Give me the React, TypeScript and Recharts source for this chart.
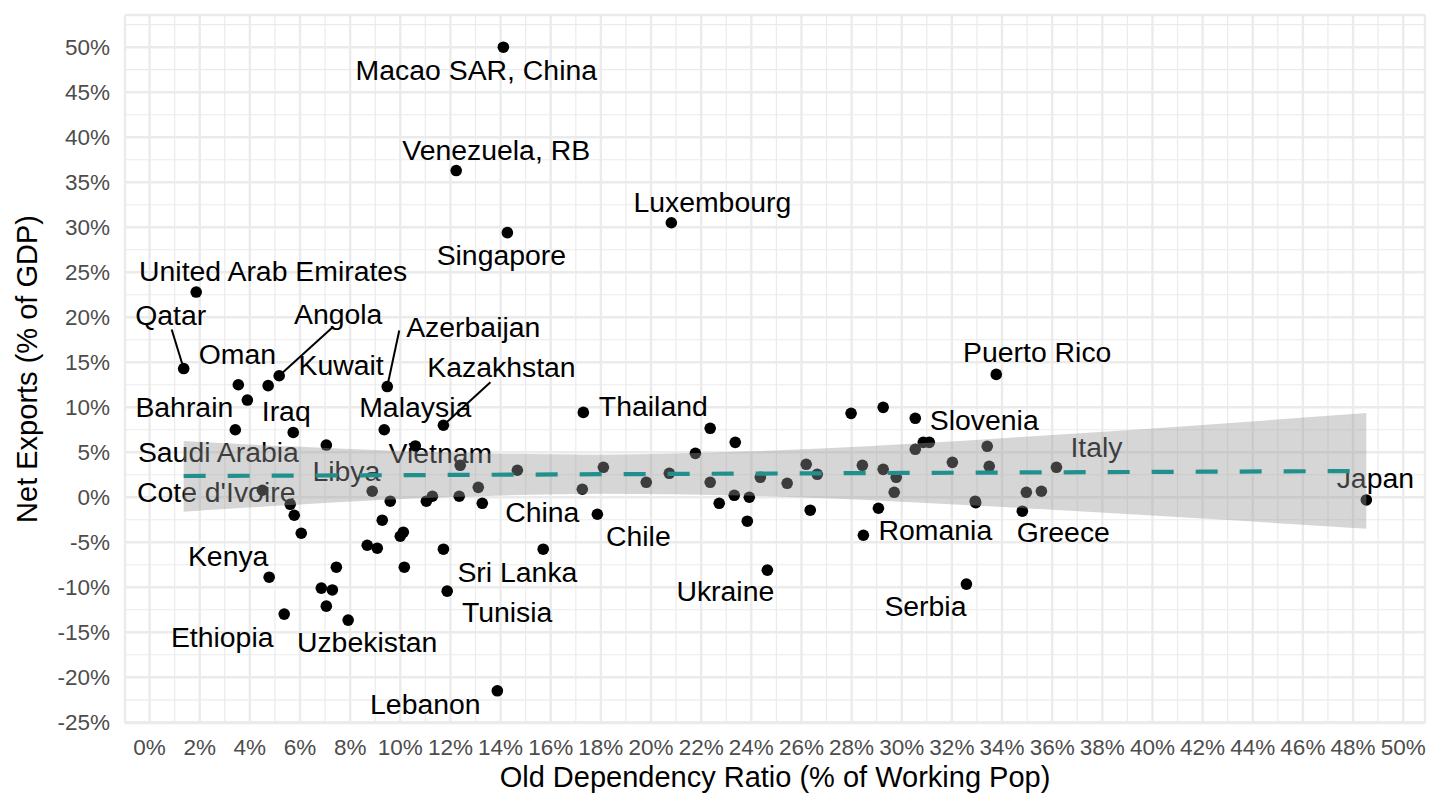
import {
  ComposedChart,
  Scatter,
  Area,
  Line,
  XAxis,
  YAxis,
  CartesianGrid,
} from "recharts";

const FONT = "'Liberation Sans', Arial, Helvetica, sans-serif";

// country labels ("" = point drawn without a label)
const countries = [
  "Macao SAR, China", "Venezuela, RB", "Singapore", "Luxembourg", "United Arab Emirates",
  "Qatar", "Oman", "Angola", "Kuwait", "",
  "Iraq", "Bahrain", "Libya", "Azerbaijan", "Malaysia",
  "Kazakhstan", "Vietnam", "", "", "",
  "Saudi Arabia", "Cote d'Ivoire", "", "", "",
  "", "", "", "", "",
  "", "", "", "Kenya", "",
  "", "Sri Lanka", "", "", "",
  "", "Tunisia", "", "Ethiopia", "Uzbekistan",
  "Lebanon", "Thailand", "", "", "",
  "", "", "", "", "China",
  "", "", "", "", "",
  "", "", "", "", "Chile",
  "", "Ukraine", "Puerto Rico", "", "",
  "Slovenia", "", "", "", "",
  "", "", "", "", "",
  "", "Italy", "", "", "",
  "", "Greece", "", "Romania", "Serbia",
  "Japan",
];

// old dependency ratio, % of working population
const oldDependency = [
  14.11, 12.23, 14.27, 20.81, 1.86,
  1.36, 3.54, 5.17, 4.73, 3.9,
  5.73, 3.42, 7.05, 9.48, 9.36,
  11.72, 10.6, 12.39, 13.11, 14.67,
  4.5, 5.61, 5.77, 6.05, 8.88,
  9.6, 11.04, 11.28, 12.35, 13.27,
  9.28, 10.12, 10.0, 4.77, 8.68,
  9.08, 11.72, 7.45, 10.16, 6.85,
  7.29, 11.87, 7.05, 5.37, 7.92,
  13.87, 17.3, 22.36, 23.36, 21.77,
  18.1, 20.73, 26.19, 26.63, 17.26,
  19.81, 22.36, 24.36, 25.43, 22.72,
  23.32, 23.92, 23.84, 26.35, 17.86,
  15.7, 24.64, 33.77, 27.98, 29.26,
  30.54, 30.86, 31.1, 30.54, 33.41,
  28.43, 29.26, 29.78, 29.7, 32.02,
  33.49, 36.17, 32.93, 32.95, 34.97,
  35.57, 34.81, 29.07, 28.47, 32.58,
  48.53,
];

// net exports, % of GDP
const netExports = [
  50.0, 36.3, 29.4, 30.5, 22.8,
  14.3, 12.5, 13.5, 12.4, 10.8,
  7.2, 7.5, 5.8, 12.3, 7.5,
  8.0, 5.7, 3.55, 1.1, 3.0,
  0.78, -0.78, -2.0, -4.0, 0.67,
  -0.44, -0.44, 0.11, 0.11, -0.67,
  -2.55, -3.88, -4.33, -8.88, -5.33,
  -5.66, -5.77, -7.77, -7.77, -10.1,
  -10.3, -10.43, -12.1, -12.98, -13.65,
  -21.5, 9.43, 7.66, 6.1, 4.88,
  3.33, 2.66, 3.66, 2.55, 0.89,
  1.66, 1.66, 2.22, 1.55, -0.67,
  0.22, 0.0, -2.66, -1.44, -1.89,
  -5.77, -8.1, 13.65, 9.32, 9.99,
  8.77, 6.1, 6.1, 5.33, 5.66,
  3.55, 3.1, 2.22, 0.55, 3.88,
  3.44, 3.33, -0.44, -0.61, 0.55,
  0.67, -1.55, -1.22, -4.22, -9.65,
  -0.3,
];

// linear fit and its confidence band
const bandX = [1.36, 6, 12, 18, 24, 30, 36, 42, 48.53];
const bandLow = [-1.6, -0.8, 0.02, 0.39, 0.16, -0.5, -1.38, -2.36, -3.5];
const bandHigh = [6.25, 5.6, 4.96, 4.73, 5.1, 5.9, 6.92, 8.04, 9.35];
const fitLine = [2.36, 2.41, 2.48, 2.56, 2.63, 2.7, 2.77, 2.84, 2.92];

const xTicks = [0, 2, 4, 6, 8, 10, 12, 14, 16, 18, 20, 22, 24, 26, 28, 30, 32, 34, 36, 38, 40, 42, 44, 46, 48, 50];
const xMinor = [1, 3, 5, 7, 9, 11, 13, 15, 17, 19, 21, 23, 25, 27, 29, 31, 33, 35, 37, 39, 41, 43, 45, 47, 49];
const yTicks = [-25, -20, -15, -10, -5, 0, 5, 10, 15, 20, 25, 30, 35, 40, 45, 50];
const yMinor = [-22.5, -17.5, -12.5, -7.5, -2.5, 2.5, 7.5, 12.5, 17.5, 22.5, 27.5, 32.5, 37.5, 42.5, 47.5, 52.5];

// label placement (px from the point, text centre / baseline), like ggrepel did it
const labelNudge: Record<string, [number, number]> = {
  "Macao SAR, China": [-27, 33],
  "Venezuela, RB": [40, -11],
  Singapore: [-6, 32],
  Luxembourg: [41, -11],
  "United Arab Emirates": [77, -11],
  Qatar: [-13, -44],
  Oman: [-1, -21],
  Angola: [59, -52],
  Kuwait: [73, -11],
  Iraq: [-7, -11],
  Bahrain: [-51, -13],
  Libya: [20, 36],
  Azerbaijan: [86, -50],
  Malaysia: [31, -13],
  Kazakhstan: [58, -48],
  Vietnam: [25, 17],
  "Saudi Arabia": [-44, -28],
  "Cote d'Ivoire": [-74, -2],
  Kenya: [-41, -11],
  Ethiopia: [-62, 33],
  Uzbekistan: [19, 32],
  Lebanon: [-72, 23],
  "Sri Lanka": [74, 33],
  Tunisia: [60, 31],
  China: [-40, 33],
  Chile: [41, 32],
  Thailand: [70, 4],
  Ukraine: [-42, 31],
  "Puerto Rico": [41, -12],
  Slovenia: [69, 12],
  Italy: [40, -10],
  Romania: [72, 5],
  Greece: [41, 31],
  Serbia: [-41, 32],
  Japan: [9, -12],
};

const segmentEnd: Record<string, [number, number]> = {
  Qatar: [-12, -39],
  Angola: [54, -49],
  Azerbaijan: [12, -56],
  Kazakhstan: [47, -43],
};

const points = countries.map((name, i) => ({
  name,
  x: oldDependency[i],
  y: netExports[i],
}));

const bandTable = bandX.map((x, i) => ({
  x,
  range: [bandLow[i], bandHigh[i]],
  fit: fitLine[i],
}));

const Dot = (props: any) => {
  const { cx, cy } = props;
  if (cx == null || cy == null) return <g />;
  return <circle cx={cx} cy={cy} r={5.8} fill="#000" />;
};

const CountryLabel = (props: any) => {
  const { cx, cy, payload } = props;
  const nudge = payload && labelNudge[payload.name];
  if (!nudge || cx == null) return <g />;
  const seg = segmentEnd[payload.name];
  return (
    <g>
      {seg && (
        <line
          x1={cx}
          y1={cy}
          x2={cx + seg[0]}
          y2={cy + seg[1]}
          stroke="#000"
          strokeWidth={2}
        />
      )}
      <text
        x={cx + nudge[0]}
        y={cy + nudge[1]}
        textAnchor="middle"
        fontSize={28.4}
        fontFamily={FONT}
        fill="#000"
      >
        {payload.name}
      </text>
    </g>
  );
};

export default function App() {
  return (
    <div
      style={{
        position: "absolute",
        left: 0,
        top: 0,
        width: 1440,
        height: 810,
        background: "#fff",
        fontFamily: FONT,
      }}
    >
      <ComposedChart
        width={1440}
        height={810}
        data={bandTable}
        margin={{ top: 15, right: 15, left: 0, bottom: 0 }}
      >
        <CartesianGrid
          verticalValues={xMinor}
          horizontalValues={yMinor}
          stroke="#ebebeb"
          strokeWidth={1.2}
        />
        <CartesianGrid stroke="#ebebeb" strokeWidth={2.4} />
        <XAxis
          type="number"
          dataKey="x"
          domain={[-0.98, 50.87]}
          ticks={xTicks}
          allowDataOverflow
          axisLine={false}
          tickLine={false}
          tickMargin={10}
          height={87}
          tickFormatter={(v) => `${v}%`}
          tick={{ fontSize: 22.5, fill: "#4d4d4d", fontFamily: FONT }}
          label={{
            value: "Old Dependency Ratio (% of Working Pop)",
            position: "insideBottom",
            offset: 23,
            style: { fontSize: 29, fill: "#000", fontFamily: FONT },
          }}
        />
        <YAxis
          type="number"
          dataKey="y"
          domain={[-25.08, 53.58]}
          ticks={yTicks}
          allowDataOverflow
          axisLine={false}
          tickLine={false}
          tickMargin={9}
          width={125}
          tickFormatter={(v) => `${v}%`}
          tick={{ fontSize: 22.5, fill: "#4d4d4d", fontFamily: FONT }}
          label={{
            value: "Net Exports (% of GDP)",
            angle: -90,
            position: "insideLeft",
            offset: 27,
            style: { fontSize: 29, fill: "#000", fontFamily: FONT, textAnchor: "middle" },
          }}
        />
        <Scatter data={points} shape={Dot} isAnimationActive={false} />
        <Scatter data={points} shape={CountryLabel} isAnimationActive={false} />
        <Area
          type="monotone"
          dataKey="range"
          stroke="none"
          fill="#999999"
          fillOpacity={0.4}
          isAnimationActive={false}
          zIndex={650}
        />
        <Line
          type="linear"
          dataKey="fit"
          stroke="#21908C"
          strokeWidth={4.2}
          strokeDasharray="22 22"
          dot={false}
          activeDot={false}
          isAnimationActive={false}
          zIndex={700}
        />
      </ComposedChart>
    </div>
  );
}
